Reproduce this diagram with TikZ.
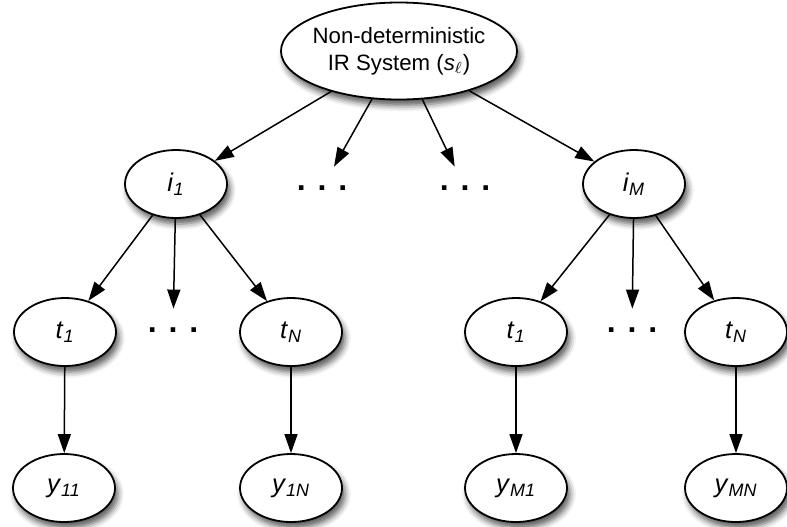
\documentclass[tikz,border=0pt]{standalone}
\usepackage{fontspec}
\setmainfont{Liberation Sans}
\usetikzlibrary{shapes.geometric,arrows.meta,shadows.blur}

\newcommand{\lbl}[2]{\textit{#1}\textsubscript{\textit{#2}}}

\begin{document}
\begin{tikzpicture}[x=0.5pt,y=-0.5pt]
				    \tikzstyle{edge}=[draw,line width=.75pt,-{Triangle[length=9.5pt,width=6.5pt]},black]
				    \tikzstyle{var}=[draw,ellipse,line width=.9pt,fill=white,minimum width=51pt,minimum height=34pt,inner sep=0pt,font=\fontsize{12.8}{15}\selectfont,blur shadow={shadow xshift=1.5pt,shadow yshift=-3pt,shadow blur radius=3pt,shadow opacity=65}]
				    \tikzstyle{sys}=[var,minimum width=118pt,minimum height=48.5pt,inner xsep=-2pt,align=center,font=\fontsize{11.1}{13.5}\selectfont]
				    \tikzstyle{gap}=[minimum height=21pt,inner sep=0pt,font=\fontsize{16}{18}\selectfont\bfseries]
				    \useasboundingbox (0,0) rectangle (787,526);
				    \node[sys] (s) at (399,51) {Non-deterministic\\IR System (\lbl{s}{$\ell$})};
				    \node[var] (i1) at (176,184) {\lbl{i}{1}};
				    \node[gap] (d1) at (322,188) {. . .};
				    \node[gap] (d2) at (465,188) {. . .};
				    \node[var] (iM) at (634,184) {\lbl{i}{M}};
				    \node[var] (t11) at (65,332) {\lbl{t}{1}};
				    \node[gap] (d3) at (173,330) {. . .};
				    \node[var] (t1N) at (291,332) {\lbl{t}{N}};
				    \node[var] (tM1) at (516,332) {\lbl{t}{1}};
				    \node[gap] (d4) at (632,330) {. . .};
				    \node[var] (tMN) at (736,332) {\lbl{t}{N}};
				    \node[var] (y11) at (64,488) {\lbl{y}{11}};
				    \node[var] (y1N) at (291,488) {\lbl{y}{1N}};
				    \node[var] (yM1) at (516,488) {\lbl{y}{M1}};
				    \node[var] (yMN) at (736,488) {\lbl{y}{MN}};
				    \draw[edge] (s) -- (i1);
				    \draw[edge] (s) -- (d1);
				    \draw[edge] (s) -- (d2);
				    \draw[edge] (s) -- (iM);
				    \draw[edge] (i1) -- (t11);
				    \draw[edge] (i1) -- (d3);
				    \draw[edge] (i1) -- (t1N);
				    \draw[edge] (iM) -- (tM1);
				    \draw[edge] (iM) -- (d4);
				    \draw[edge] (iM) -- (tMN);
				    \draw[edge] (t11) -- (y11);
				    \draw[edge] (t1N) -- (y1N);
				    \draw[edge] (tM1) -- (yM1);
				    \draw[edge] (tMN) -- (yMN);
				\end{tikzpicture}
\end{document}
